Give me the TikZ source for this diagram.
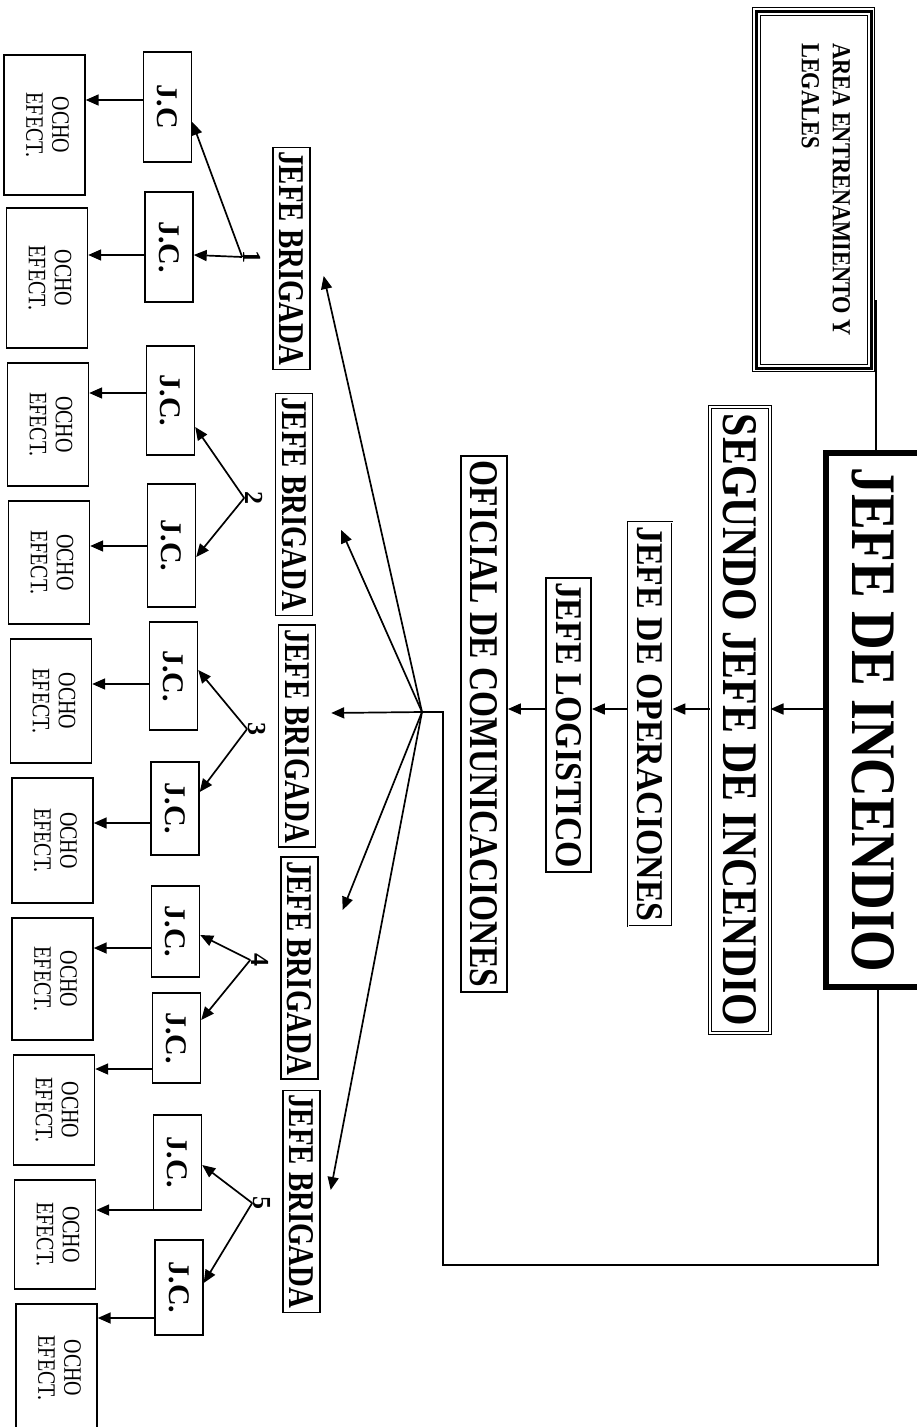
\documentclass[tikz,border=0pt]{standalone}
\usepackage{fontspec}
\setmainfont{Liberation Serif}
\usepackage{graphicx}
\usetikzlibrary{arrows.meta}
\def\vfit#1#2#3{\rotatebox{-90}{\resizebox{#1pt}{#2pt}{#3}}}
\def\vstack#1#2#3{\rotatebox{-90}{\scalebox{#1}[1]{\begin{tabular}{@{}#2@{}}#3\end{tabular}}}}
\def\frameinset[#1](#2)(#3){\draw[#1] ([shift={(#3,#3)}]#2.north west) rectangle ([shift={(-#3,-#3)}]#2.south east);}
\tikzset{
	>={Triangle[length=13pt,width=11pt]},
	box/.style={draw, inner sep=0pt, font=\bfseries},
	chief/.style={box, line width=6pt},
	second/.style={box, double, line width=1pt, double distance=2pt},
	staff/.style={box, line width=1.8pt},
	brigade/.style={box, line width=1.4pt, minimum width=37pt, minimum height=222pt},
	crewchief/.style={box, line width=1.4pt, minimum width=48pt, font=\bfseries\fontsize{30}{30}\selectfont},
	crew/.style={box, line width=1.4pt, minimum width=81pt, font=\fontsize{25}{26}\selectfont},
	num/.style={inner sep=1pt, font=\bfseries\fontsize{26}{26}\selectfont},
	link/.style={line width=1.7pt}
}

\begin{document}
\begin{tikzpicture}[x=1pt, y=-1pt]
			%%%%% START %%%%%
			\useasboundingbox (0,0) rectangle (917,1427);
			\fill[white] (0,0) rectangle (917,1427);
			
			\coordinate (tick) at (876,300);
			\coordinate (chain) at (0,709);
			\coordinate (loop) at (878,1265);
			\coordinate (feed) at (443,712);
			\coordinate (fan) at (422,712);
			
			\node[box, line width=1pt, minimum width=122pt, minimum height=364pt, font=\bfseries\fontsize{26}{31}\selectfont] (area) at (813.5,189.5) {\vstack{0.86}{l}{AREA ENTRENAMIENTO Y\\LEGALES\\[-11pt]\mbox{}}};
			\frameinset[line width=3pt](area)(4)
			\frameinset[line width=0.8pt](area)(8)
			
			\node[chief, minimum width=95pt, minimum height=534pt] (jefe) at (873.5,720) {\vfit{505}{42}{JEFE DE INCENDIO}};
			\frameinset[double, line width=0.7pt, double distance=1.2pt](jefe)(12)
			\node[second, minimum width=60pt, minimum height=626pt] (segundo) at (740,720) {\vfit{612}{33}{SEGUNDO JEFE DE INCENDIO}};
			\node[staff, double, line width=0.7pt, double distance=1pt, minimum width=44pt, minimum height=404pt] (operaciones) at (650,724) {\vfit{395}{25}{JEFE DE OPERACIONES}};
			\node[staff, minimum width=45pt, minimum height=294pt] (logistico) at (568.5,725) {\vfit{286}{25}{JEFE LOGISTICO}};
			\node[staff, minimum width=46pt, minimum height=536pt] (oficial) at (484,724) {\vfit{526}{27}{OFICIAL DE COMUNICACIONES}};
			
			\draw[link] (jefe.north -| tick) -- (tick);
			\draw[link, ->] (jefe.west |- chain) -- (segundo.east |- chain);
			\draw[link, ->] (segundo.west |- chain) -- (operaciones.east |- chain);
			\draw[link, ->] (operaciones.west |- chain) -- (logistico.east |- chain);
			\draw[link, ->] (logistico.west |- chain) -- (oficial.east |- chain);
			\draw[link] (jefe.south -| loop) -- (loop) -| (feed) -- (fan);
			
			\node[brigade] (b1) at (291.5,258.5) {\vfit{214}{24}{JEFE BRIGADA}};
			\node[brigade] (b2) at (294,504.5) {\vfit{214}{24}{JEFE BRIGADA}};
			\node[brigade] (b3) at (297,736) {\vfit{214}{24}{JEFE BRIGADA}};
			\node[brigade] (b4) at (299.5,968) {\vfit{214}{24}{JEFE BRIGADA}};
			\node[brigade] (b5) at (301.5,1201.5) {\vfit{214}{24}{JEFE BRIGADA}};
			
			\draw[link, ->] (fan) -- ([xshift=13pt]b1.east |- 0,276);
			\draw[link, ->] (fan) -- ([xshift=28pt]b2.east |- 0,530);
			\draw[link, ->] (fan) -- ([xshift=15pt]b3.east |- 0,713);
			\draw[link, ->] (fan) -- ([xshift=24pt]b4.east |- 0,910);
			\draw[link, ->] (fan) -- ([xshift=10pt]b5.east |- 0,1190);
			
			\node[num] (n1) at (252,257) {\rotatebox{-90}{1}};
			\node[num] (n2) at (254,498) {\rotatebox{-90}{2}};
			\node[num] (n3) at (257,729) {\rotatebox{-90}{3}};
			\node[num] (n4) at (260,960) {\rotatebox{-90}{4}};
			\node[num] (n5) at (262,1203) {\rotatebox{-90}{5}};
			
			\node[crewchief, minimum height=110pt] (jc1) at (167.5,107) {\rotatebox{-90}{J.C}};
			\node[crewchief, minimum height=110pt] (jc2) at (169,247) {\rotatebox{-90}{J.C.}};
			\node[crewchief, minimum height=109pt] (jc3) at (170.5,400.5) {\rotatebox{-90}{J.C.}};
			\node[crewchief, minimum height=123pt] (jc4) at (171.5,545.5) {\rotatebox{-90}{J.C.}};
			\node[crewchief, minimum height=108pt] (jc5) at (173.5,676) {\rotatebox{-90}{J.C.}};
			\node[crewchief, minimum height=93pt] (jc6) at (175,808.5) {\rotatebox{-90}{J.C.}};
			\node[crewchief, minimum height=91pt] (jc7) at (175.5,931.5) {\rotatebox{-90}{J.C.}};
			\node[crewchief, minimum height=90pt] (jc8) at (176.5,1038) {\rotatebox{-90}{J.C.}};
			\node[crewchief, minimum height=95pt] (jc9) at (177.5,1162.5) {\rotatebox{-90}{J.C.}};
			\node[crewchief, minimum height=95pt] (jc10) at (179,1287.5) {\rotatebox{-90}{J.C.}};
			
			\draw[link, ->] (n1.west) -- (jc1.east |- 0,122);
			\draw[link, ->] (n1.west) -- (jc2.east |- 0,255);
			\draw[link, ->] (n2.west) -- (jc3.east |- 0,427);
			\draw[link, ->] (n2.west) -- (jc4.east |- 0,557);
			\draw[link, ->] (n3.west) -- (jc5.east |- 0,670);
			\draw[link, ->] (n3.west) -- (jc6.east |- 0,792);
			\draw[link, ->] (n4.west) -- (jc7.east |- 0,935);
			\draw[link, ->] (n4.west) -- (jc8.east |- 0,1020);
			\draw[link, ->] (n5.west) -- (jc9.east |- 0,1165);
			\draw[link, ->] (n5.west) -- (jc10.east |- 0,1283);
			
			\node[crew, minimum height=140pt] (o1) at (44.5,125) {\vstack{0.8}{c}{OCHO\\EFECT.}};
			\node[crew, minimum height=140pt] (o2) at (47,278) {\vstack{0.8}{c}{OCHO\\EFECT.}};
			\node[crew, minimum height=123pt] (o3) at (48,424.5) {\vstack{0.8}{c}{OCHO\\EFECT.}};
			\node[crew, minimum height=123pt] (o4) at (49,562.5) {\vstack{0.8}{c}{OCHO\\EFECT.}};
			\node[crew, minimum height=124pt] (o5) at (51,701) {\vstack{0.8}{c}{OCHO\\EFECT.}};
			\node[crew, minimum height=125pt] (o6) at (52.5,840.5) {\vstack{0.8}{c}{OCHO\\EFECT.}};
			\node[crew, minimum height=122pt] (o7) at (52.5,979) {\vstack{0.8}{c}{OCHO\\EFECT.}};
			\node[crew, minimum height=110pt] (o8) at (54,1110) {\vstack{0.8}{c}{OCHO\\EFECT.}};
			\node[crew, minimum height=109pt] (o9) at (55,1234.5) {\vstack{0.8}{c}{OCHO\\EFECT.}};
			\node[crew, minimum height=128pt] (o10) at (56.5,1368) {\vstack{0.8}{c}{OCHO\\EFECT.}};
			
			\draw[link, ->] (jc1.west |- 0,100) -- (o1.east |- 0,100);
			\draw[link, ->] (jc2.west |- 0,255) -- (o2.east |- 0,255);
			\draw[link, ->] (jc3.west |- 0,393) -- (o3.east |- 0,393);
			\draw[link, ->] (jc4.west |- 0,546) -- (o4.east |- 0,546);
			\draw[link, ->] (jc5.west |- 0,684) -- (o5.east |- 0,684);
			\draw[link, ->] (jc6.west |- 0,823) -- (o6.east |- 0,823);
			\draw[link, ->] (jc7.west |- 0,948) -- (o7.east |- 0,948);
			\draw[link, ->] (jc8.west |- 0,1069) -- (o8.east |- 0,1069);
			\draw[link, ->] (jc9.west |- 0,1210) -- (o9.east |- 0,1210);
			\draw[link, ->] (jc10.west |- 0,1318) -- (o10.east |- 0,1318);
			%%%%% END %%%%%
\end{tikzpicture}
\end{document}
